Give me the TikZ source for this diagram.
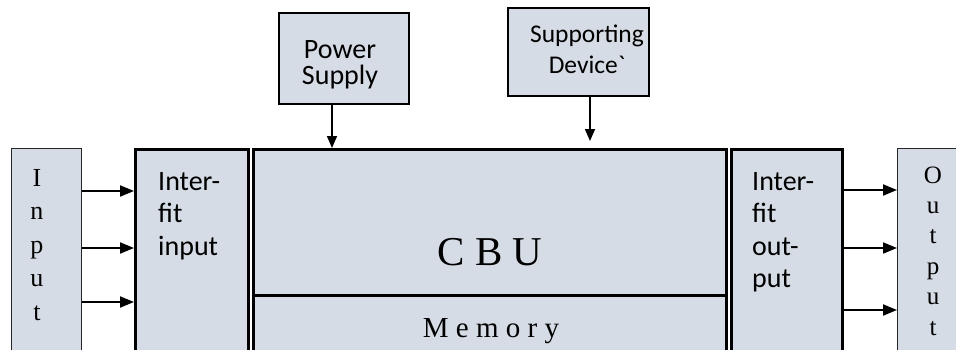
\documentclass[tikz,border=0pt]{standalone}
\usepackage{fontspec}
\setmainfont{Liberation Serif}
\newfontfamily\calib{Carlito}
\usetikzlibrary{arrows.meta}
\definecolor{boxfill}{HTML}{D6DCE5}
\begin{document}
\begin{tikzpicture}[x=1pt,y=-1pt,
  thinbox/.style={draw=black!85, line width=1.2pt, fill=boxfill, rectangle, inner sep=0pt, anchor=north west},
  mainbox/.style={draw=black, line width=3pt, fill=boxfill, rectangle, inner sep=0pt, anchor=north west},
  topbox/.style={draw=black, line width=2.2pt, fill=boxfill, rectangle, inner sep=0pt, anchor=north west},
  arr/.style={line width=2pt, -{Triangle[length=14pt,width=11pt]}},
  varr/.style={line width=1.5pt, -{Triangle[length=12pt,width=10pt]}},
  sanslbl/.style={font=\calib\fontsize{28}{32.5}\selectfont, align=left, inner sep=0pt, anchor=base west},
  toplbl/.style={font=\calib\fontsize{28}{26}\selectfont, align=center, inner sep=0pt, anchor=base},
  vlbl/.style={inner sep=0pt, anchor=base, align=center},
]
\useasboundingbox (0,0) rectangle (956,349);
\clip (0,0) rectangle (956,349);

% boxes
\node[thinbox, minimum width=70pt, minimum height=212pt] (inp) at (11,148) {};
\node[mainbox, minimum width=113pt, minimum height=212pt] (ifin) at (134,148) {};
\node[mainbox, minimum width=473pt, minimum height=146pt] (cbu) at (251.5,148) {};
\node[mainbox, minimum width=473pt, minimum height=70pt] (mem) at (251.5,294) {};
\node[mainbox, minimum width=111pt, minimum height=212pt] (ifout) at (730,148) {};
\node[thinbox, minimum width=70pt, minimum height=212pt] (outp) at (897,148) {};
\node[topbox, minimum width=130pt, minimum height=91pt] (pow) at (278,12) {};
\node[topbox, line width=1.8pt, minimum width=141pt, minimum height=88pt] (sup) at (507,7) {};

% texts (anchor base = baseline of the last line)
\node[vlbl, font=\fontsize{26}{33.5}\selectfont] (inptxt) at (37,320) {I\\n\\p\\u\\t};
\node[vlbl, font=\fontsize{25}{30.4}\selectfont] (outtxt) at (933,335) {O\\u\\t\\p\\u\\t};
\node[sanslbl] (ifintxt) at (158,255) {Inter-\\fit\\input};
\node[sanslbl] (ifouttxt) at (752,287.5) {Inter-\\fit\\out-\\put};
\node[toplbl] (powtxt) at (340,84) {Power\\Supply};
\node[toplbl, font=\calib\fontsize{25.5}{31}\selectfont] (suptxt) at (587,73) {Supporting\\Device`};
\node[inner sep=0pt, anchor=base, font=\fontsize{41}{41}\selectfont] (cbutxt) at (490,265) {C B U};
\node[inner sep=0pt, anchor=base, font=\fontsize{29}{29}\selectfont] (memtxt) at (491,337) {M e m o r y};

% connectors
\draw[arr] (inp.east |- 0,191) -- (ifin.west |- 0,191);
\draw[arr] (inp.east |- 0,248) -- (ifin.west |- 0,248);
\draw[arr] (inp.east |- 0,302) -- (ifin.west |- 0,302);
\draw[arr] (ifout.east |- 0,190) -- (outp.west |- 0,190);
\draw[arr] (ifout.east |- 0,248) -- (outp.west |- 0,248);
\draw[arr] (ifout.east |- 0,310) -- (outp.west |- 0,310);
\coordinate (supend) at (590,141);
\draw[varr] (332,0 |- pow.south) -- (332,0 |- cbu.north);
\draw[varr] (590,0 |- sup.south) -- (supend);
\end{tikzpicture}
\end{document}
